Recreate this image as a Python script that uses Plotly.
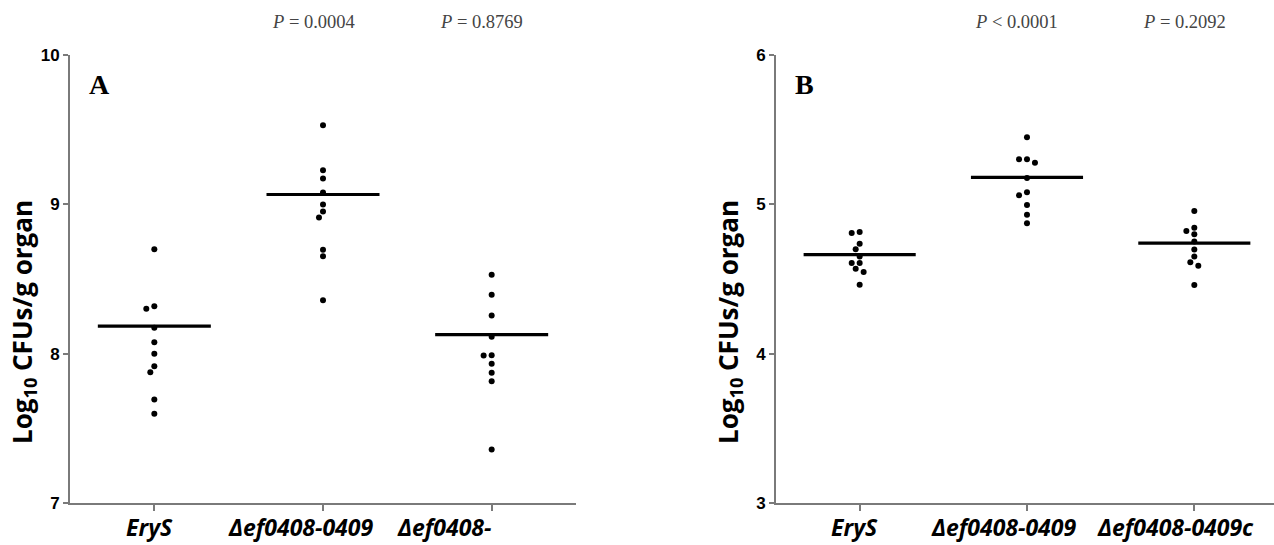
import plotly.graph_objects as go

# ---------------- data ----------------
categories_A = ["EryS", "Δef0408-0409", "Δef0408-"]
categories_B = ["EryS", "Δef0408-0409", "Δef0408-0409c"]

A_erys = [8.699, 8.317, 8.300, 8.173, 8.077, 7.999, 7.916, 7.876, 7.693, 7.598]
A_del = [9.530, 9.229, 9.173, 9.079, 8.999, 8.952, 8.912, 8.696, 8.652, 8.357]
A_comp = [8.529, 8.395, 8.255, 8.113, 7.990, 7.988, 7.932, 7.872, 7.816, 7.359]
A_lines = [8.184, 9.066, 8.128]

B_erys = [4.815, 4.808, 4.736, 4.700, 4.651, 4.607, 4.607, 4.569, 4.547, 4.462]
B_del = [5.449, 5.302, 5.302, 5.279, 5.177, 5.081, 5.060, 4.995, 4.930, 4.874]
B_comp = [4.956, 4.844, 4.821, 4.800, 4.751, 4.698, 4.651, 4.612, 4.588, 4.460]
B_lines = [4.663, 5.181, 4.740]

p_text_A = ["<i>P</i> = 0.0004", "<i>P</i> = 0.8769"]
p_text_B = ["<i>P</i> < 0.0001", "<i>P</i> = 0.2092"]

ytick_A = [7, 8, 9, 10]
ytick_B = [3, 4, 5, 6]
# --------------------------------------

W, H = 1274, 545
TOP, BOT = 55, 503
PLOT_H = BOT - TOP
A_LEFT, A_RIGHT = 70, 576
B_LEFT = 776
CAT_PX = 168.0
Y_PX = PLOT_H / 3.0
DOT = 6.0


def swarm(values):
    """deterministic beeswarm offsets in category units"""
    order = sorted(range(len(values)), key=lambda i: -values[i])
    placed = []
    offs = [0.0] * len(values)
    cands = [0, -4, 4, -8, 8, -12, 12]
    for i in order:
        yp = values[i] * Y_PX
        for c in cands:
            ok = all((c - px) ** 2 + (yp - py) ** 2 >= (DOT + 0.5) ** 2
                     for px, py in placed)
            if ok:
                placed.append((c, yp))
                offs[i] = c / CAT_PX
                break
    return offs


fig = go.Figure()

GRAY = "#7a7a7a"


def add_panel(groups, lines, xa, ya):
    for gi, vals in enumerate(groups):
        offs = swarm(vals)
        fig.add_trace(go.Scatter(
            x=[gi + o for o in offs], y=vals, mode="markers",
            marker=dict(color="black", size=DOT), xaxis=xa, yaxis=ya,
            showlegend=False, hoverinfo="y"))
    for gi, m in enumerate(lines):
        fig.add_trace(go.Scatter(
            x=[gi - 0.335, gi + 0.335], y=[m, m], mode="lines",
            line=dict(color="black", width=3.2), xaxis=xa, yaxis=ya,
            showlegend=False, hoverinfo="skip"))


add_panel([A_erys, A_del, A_comp], A_lines, "x", "y")
add_panel([B_erys, B_del, B_comp], B_lines, "x2", "y2")

xcommon = dict(showgrid=False, zeroline=False, showline=True, linecolor=GRAY,
               linewidth=2, ticks="outside", ticklen=6, tickwidth=2, tickcolor=GRAY,
               tickvals=[0, 1, 2], showticklabels=False)
ycommon = dict(showgrid=False, zeroline=False, showline=True, linecolor=GRAY,
               linewidth=2, ticks="outside", ticklen=5, tickwidth=2, tickcolor=GRAY,
               tickfont=dict(family="Liberation Sans", size=17, color="black",
                             weight="bold"))

b_right_val = 2 + (W - 1194) / CAT_PX

fig.update_layout(
    width=W, height=H, margin=dict(l=0, r=0, t=TOP, b=H - BOT),
    paper_bgcolor="white", plot_bgcolor="white",
    xaxis=dict(xcommon, domain=[A_LEFT / W, A_RIGHT / W], range=[-0.5, 2.5],
               anchor="y"),
    yaxis=dict(ycommon, range=[7, 10], tickvals=ytick_A, anchor="x"),
    xaxis2=dict(xcommon, domain=[B_LEFT / W, 1.0], range=[-0.5, b_right_val],
                anchor="y2"),
    yaxis2=dict(ycommon, range=[3, 6], tickvals=ytick_B, anchor="x2"),
)

ann = []

# category labels (drawn as text under the ticks)
XLAB_FONT = dict(family="Open Sans", size=23, color="black", weight="bold",
                 style="italic")
lab_y = -(527 - BOT) / PLOT_H
label_shift = [-5, -23, -19]
for xr, cats in (("x", categories_A), ("x2", categories_B)):
    for i, c in enumerate(cats):
        clipped = (xr == "x" and i == 2)
        ann.append(dict(text=c, x=i, xref=xr, y=lab_y, yref="paper",
                        xshift=1 if clipped else label_shift[i],
                        xanchor="right" if clipped else "center",
                        yanchor="middle", showarrow=False, font=XLAB_FONT))

ytitle = "Log<sub>10</sub> CFUs/g organ"
for xpx in (23, 729):
    ann.append(dict(text=ytitle, x=xpx / W, y=(BOT - 322) / PLOT_H, xref="paper",
                    yref="paper", textangle=-90, showarrow=False, xanchor="center",
                    yanchor="middle",
                    font=dict(family="Open Sans", size=26, color="black",
                              weight="bold")))

for lab, xr, yr in (("A", "x domain", "y domain"), ("B", "x2 domain", "y2 domain")):
    ann.append(dict(text=lab, x=0.034, y=0.935, xref=xr, yref=yr, showarrow=False,
                    xanchor="left", yanchor="middle",
                    font=dict(family="Liberation Serif", size=28, color="black",
                              weight="bold")))

P_FONT = dict(family="Liberation Serif", size=18.5, color="#444")
for xr, texts in (("x", p_text_A), ("x2", p_text_B)):
    for i, t in enumerate(texts):
        ann.append(dict(text=t, x=i + 1, xshift=-10, xref=xr,
                        y=1.0 + (TOP - 22) / PLOT_H, yref="paper", showarrow=False,
                        xanchor="center", yanchor="middle", font=P_FONT))

fig.update_layout(annotations=ann)
fig.write_html("out.html")
